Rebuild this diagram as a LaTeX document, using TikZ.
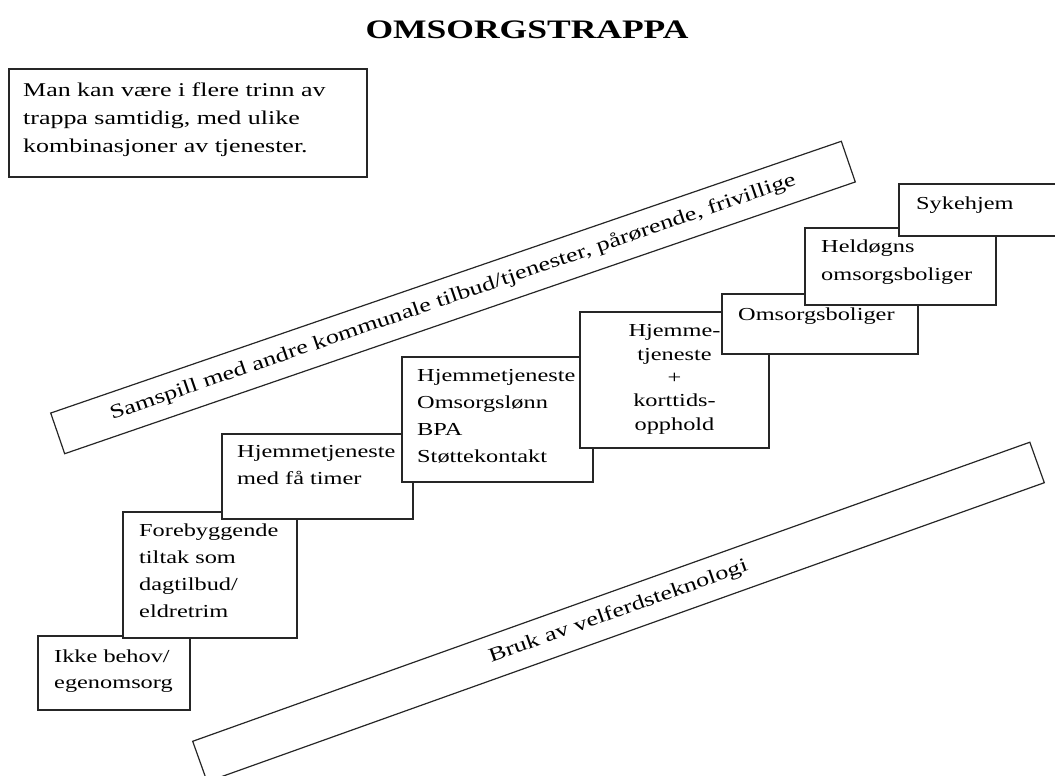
\documentclass[tikz,border=0pt]{standalone}
\usepackage{fontspec}
\setmainfont{Liberation Serif}[FakeStretch=1.33]
\usepackage{tikz}

\begin{document}
\begin{tikzpicture}[x=1pt, y=-1pt,
    stepbox/.style={draw=black!85, line width=1.2pt, fill=white},
    steptext/.style={inner sep=0pt, anchor=north west, align=left,
      font=\fontsize{18.3}{27}\selectfont},
    band/.style={draw=black!85, line width=1.2pt, inner sep=0pt,
      minimum height=43, font=\fontsize{19.7}{24}\selectfont}]
    \useasboundingbox (0, 0) rectangle (1055, 776);
    \node[font=\bfseries\fontsize{26.7}{30}\selectfont] (title) at (527, 30) {OMSORGSTRAPPA};
    % note box
    \draw[stepbox] (9, 69) rectangle (367, 177);
    \node[steptext, font=\fontsize{19.5}{28}\selectfont] (note) at (23, 82.5)
      {Man kan være i flere trinn av\\trappa samtidig, med ulike\\kombinasjoner av tjenester.};
    % the two bands
    \node[band, rotate=18.97, minimum width=836] (samspill) at (453, 297.5)
      {Samspill med andre kommunale tilbud/tjenester, pårørende, frivillige};
    \node[band, rotate=19.66, minimum width=889] (velferd) at (618.5, 612)
      {Bruk av velferdsteknologi};
    % the steps
    \draw[stepbox] (38, 636) rectangle (190, 710);
    \node[steptext, font=\fontsize{18.3}{26}\selectfont] (ikke) at (54, 649.5) {Ikke behov/\\egenomsorg};
    \draw[stepbox] (123, 512) rectangle (297, 638);
    \node[steptext] (forebygg) at (139, 523.5) {Forebyggende\\tiltak som\\dagtilbud/\\eldretrim};
    \draw[stepbox] (222, 434) rectangle (413, 519);
    \node[steptext] (faatimer) at (237, 445.5) {Hjemmetjeneste\\med få timer};
    \draw[stepbox] (402, 357) rectangle (593, 482);
    \node[steptext] (hjemme) at (417, 369.5) {Hjemmetjeneste\\Omsorgslønn\\BPA\\Støttekontakt};
    \draw[stepbox] (580, 312) rectangle (769, 448);
    \node[steptext, anchor=north, align=center, font=\fontsize{18.3}{23.3}\selectfont] (korttid) at (674.5, 324.5)
      {Hjemme-\\tjeneste\\+\\korttids-\\opphold};
    \draw[stepbox] (722, 294) rectangle (918, 354);
    \node[steptext] (boliger) at (738, 307.5) {Omsorgsboliger};
    \draw[stepbox] (805, 228) rectangle (996, 305);
    \node[steptext, font=\fontsize{18.3}{28}\selectfont] (heldogn) at (821, 239.5) {Heldøgns\\omsorgsboliger};
    \draw[stepbox] (899, 184) rectangle (1075, 236);
    \node[steptext] (sykehjem) at (916, 196.5) {Sykehjem};
  \end{tikzpicture}
\end{document}
